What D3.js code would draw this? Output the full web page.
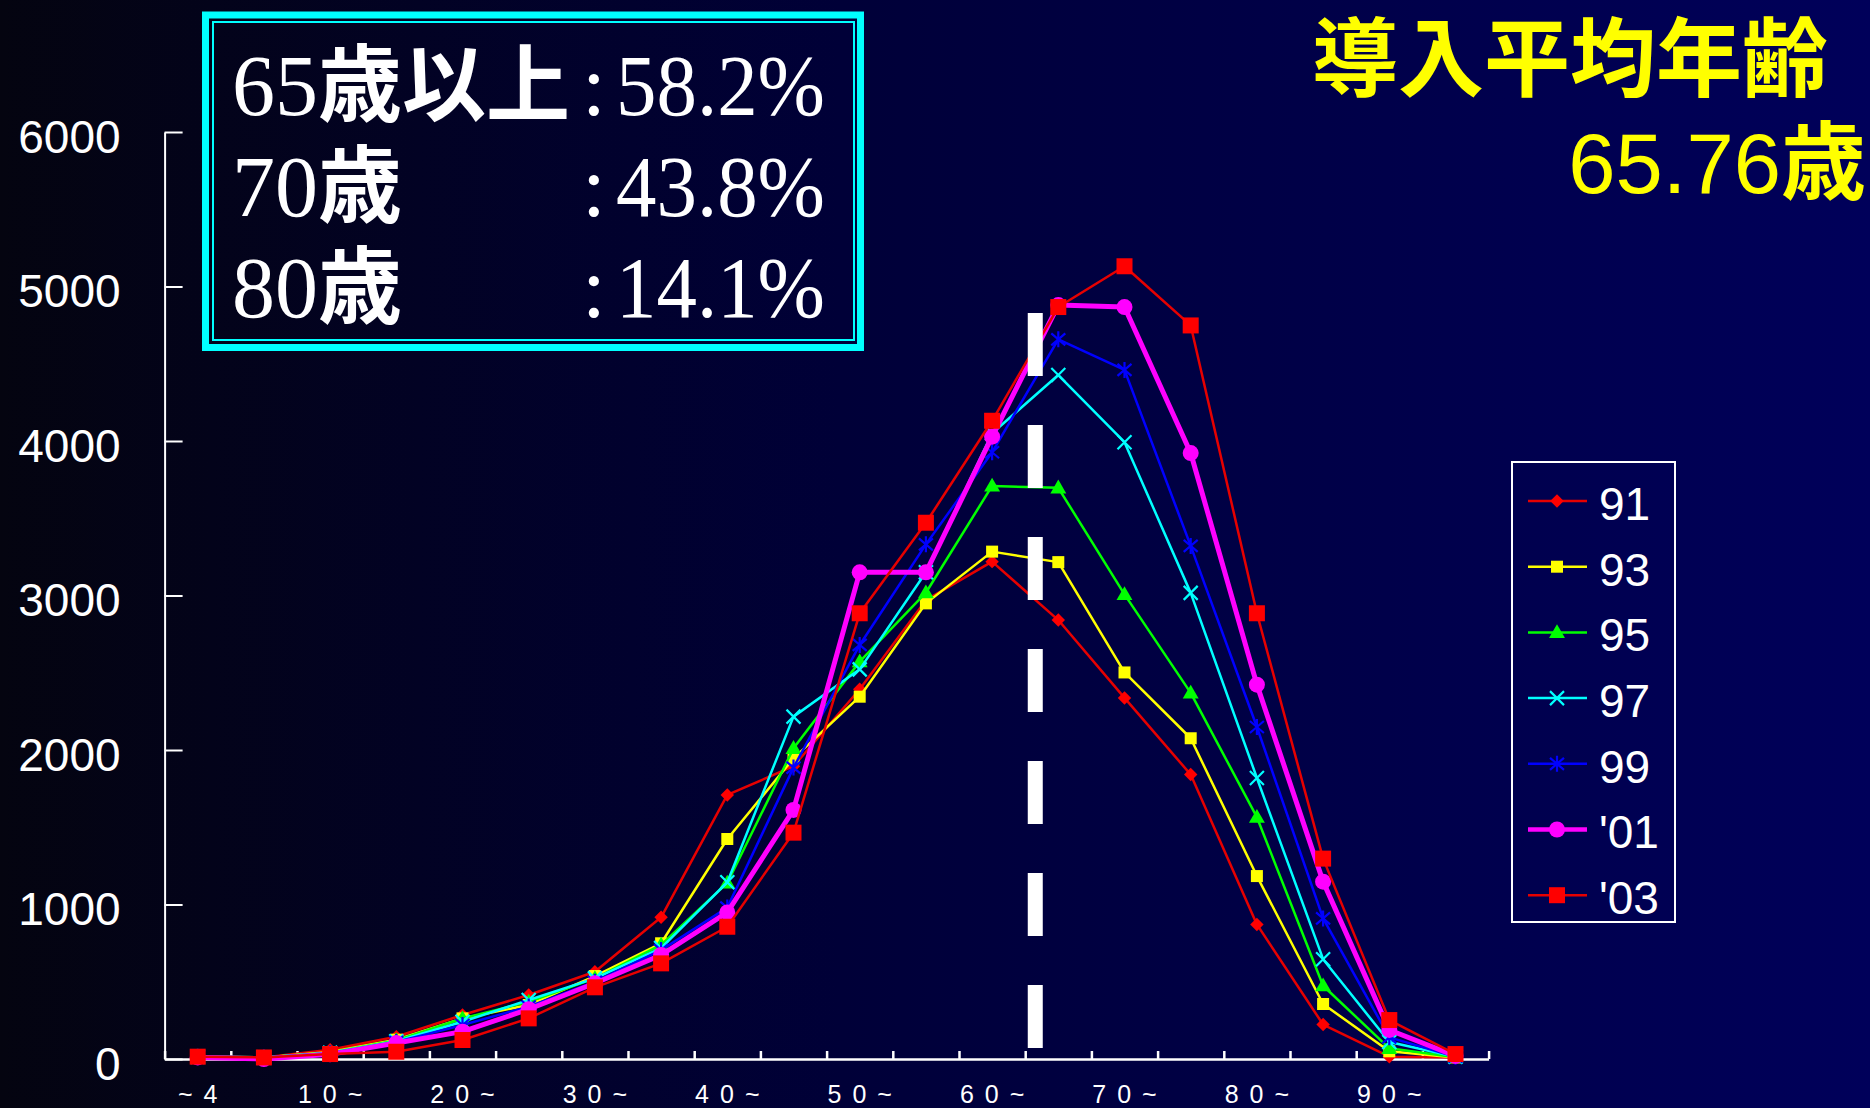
<!DOCTYPE html>
<html><head><meta charset="utf-8">
<script src="https://cdn.jsdelivr.net/npm/d3@7"></script>
<style>html,body{margin:0;padding:0;background:#000;overflow:hidden}svg{display:block}</style>
</head><body>
<svg id="c" width="1870" height="1108"></svg>
<script>
// ---------- data ----------
const ageBins = [0,5,10,15,20,25,30,35,40,45,50,55,60,65,70,75,80,85,90,95];
const xLabels = ["~4","5~","10~","15~","20~","25~","30~","35~","40~","45~","50~","55~","60~","65~","70~","75~","80~","85~","90~","95~"];
const yTicks = [0,1000,2000,3000,4000,5000,6000];
const seriesNames = ["91","93","95","97","99","'01","'03"];
const s91 = [15,10,60,144,285,414,565,917,1709,1895,2393,2970,3219,2841,2337,1841,871,223,15,10];
const s93 = [15,10,45,125,263,350,537,749,1424,1946,2345,2949,3284,3216,2502,2076,1184,356,50,10];
const s95 = [15,10,40,120,262,370,522,738,1140,2011,2572,3018,3709,3697,3007,2370,1565,474,69,12];
const s97 = [15,10,40,115,241,382,522,718,1144,2216,2522,3150,4050,4427,3992,3017,1819,646,110,15];
const s99 = [15,10,38,110,220,339,500,705,980,1886,2680,3331,3927,4658,4460,3321,2149,910,140,15];
const s01 = [10,0,30,103,177,322,490,673,949,1612,3150,3150,4028,4880,4867,3922,2423,1148,188,20];
const s03 = [15,10,32,47,123,263,464,619,856,1465,2885,3471,4131,4867,5131,4748,2885,1297,252,32];
const meanAge = 65.76;
const titleText = "導入平均年齢";
const boxAges = ["65","70","80"];
const boxSuffix = ["歳以上","歳","歳"];
const boxValues = ["58.2%","43.8%","14.1%"];

// ---------- styles ----------
const styles = [
  {color:"#ff0000", lineColor:"#e60000", width:2.5, marker:"diamond"},
  {color:"#ffff00", lineColor:"#ffff00", width:2.5, marker:"square"},
  {color:"#00ff00", lineColor:"#00ff00", width:2.5, marker:"triangle"},
  {color:"#00ffff", lineColor:"#00ffff", width:2.5, marker:"x"},
  {color:"#0000ff", lineColor:"#0000ff", width:2.5, marker:"star"},
  {color:"#ff00ff", lineColor:"#ff00ff", width:5, marker:"circle"},
  {color:"#ff0000", lineColor:"#e60000", width:2.5, marker:"bigsquare"}
];
const seriesData = [s91,s93,s95,s97,s99,s01,s03];

const svg = d3.select("#c");
const defs = svg.append("defs");
const grad = defs.append("linearGradient").attr("id","bg").attr("x1","0").attr("x2","1").attr("y1","0").attr("y2","0");
grad.append("stop").attr("offset","0%").attr("stop-color","#040410");
grad.append("stop").attr("offset","45%").attr("stop-color","#000038");
grad.append("stop").attr("offset","100%").attr("stop-color","#00005a");
svg.append("rect").attr("width",1870).attr("height",1108).attr("fill","url(#bg)");

const x = d3.scaleLinear().domain([0,100]).range([164.6,1488.6]);
const y = d3.scaleLinear().domain([0,6000]).range([1059,132]);
const SANS = "'Liberation Sans', Arial, sans-serif";
const SERIF = "'Liberation Serif', 'Times New Roman', serif";
const CJK = "'Noto Sans CJK JP', sans-serif";

// ---------- axes ----------
const yAxis = svg.append("g").attr("transform","translate(164.6,0)")
  .call(d3.axisLeft(y).tickValues(yTicks).tickSize(-18).tickSizeOuter(0).tickPadding(44).tickFormat(d=>String(d)));
yAxis.selectAll("path,line").attr("stroke","#fff").attr("stroke-width",2);
yAxis.selectAll("text").attr("fill","#fff").attr("font-family",SANS).attr("font-size",46).attr("dy","0.44em");

const xAxis = svg.append("g").attr("transform","translate(0,1059)")
  .call(d3.axisBottom(x).tickValues(ageBins.concat([100])).tickSize(-8).tickSizeOuter(0).tickFormat(""));
xAxis.selectAll("path,line").attr("stroke","#fff").attr("stroke-width",2.5);

const LS = 11;
svg.append("g").selectAll("text").data(xLabels.map((t,i)=>({t,i})).filter(d=>d.i%2===0)).join("text")
  .attr("x",d=>x(ageBins[d.i]+2.5)+LS/2).attr("y",1103)
  .attr("text-anchor","middle").attr("fill","#fff").attr("font-family",SANS).attr("font-size",25)
  .attr("letter-spacing",LS).text(d=>d.t);

// ---------- markers ----------
function drawMarker(g, type, color, cx, cy){
  const t = `translate(${cx},${cy})`;
  if(type==="diamond"){
    g.append("path").attr("d",d3.symbol(d3.symbolSquare,90)()).attr("transform",t+" rotate(45)").attr("fill",color);
  } else if(type==="square"){
    g.append("path").attr("d",d3.symbol(d3.symbolSquare,144)()).attr("transform",t).attr("fill",color);
  } else if(type==="bigsquare"){
    g.append("path").attr("d",d3.symbol(d3.symbolSquare,256)()).attr("transform",t).attr("fill",color);
  } else if(type==="triangle"){
    g.append("path").attr("d",d3.symbol(d3.symbolTriangle,110)()).attr("transform",t+" translate(0,1)").attr("fill",color);
  } else if(type==="circle"){
    g.append("circle").attr("cx",cx).attr("cy",cy).attr("r",8).attr("fill",color);
  } else if(type==="x"){
    g.append("path").attr("d","M-7,-7L7,7M-7,7L7,-7").attr("transform",t).attr("stroke",color).attr("stroke-width",2.2).attr("fill","none");
  } else if(type==="star"){
    g.append("path").attr("d","M-7,-6L7,6M-7,6L7,-6M0,-8L0,8").attr("transform",t).attr("stroke",color).attr("stroke-width",2.2).attr("fill","none");
  }
}

// ---------- series ----------
const line = d3.line().x((d,i)=>x(ageBins[i]+2.5)).y(d=>y(d));
seriesData.forEach((data,k)=>{
  const st = styles[k];
  const g = svg.append("g");
  g.append("path").datum(data).attr("d",line).attr("fill","none")
    .attr("stroke",st.lineColor).attr("stroke-width",st.width).attr("stroke-linejoin","round");
  data.forEach((v,i)=>drawMarker(g, st.marker, st.color, x(ageBins[i]+2.5), y(v)));
});

// ---------- mean age dashed line ----------
svg.append("line").attr("x1",x(meanAge)).attr("x2",x(meanAge)).attr("y1",313).attr("y2",1048)
  .attr("stroke","#fff").attr("stroke-width",15).attr("stroke-dasharray","63,49");

// ---------- legend ----------
const lg = svg.append("g");
lg.append("rect").attr("x",1512).attr("y",462).attr("width",163).attr("height",460)
  .attr("fill","none").attr("stroke","#fff").attr("stroke-width",2);
seriesNames.forEach((n,k)=>{
  const cy = 501 + 65.7*k;
  const st = styles[k];
  lg.append("line").attr("x1",1528).attr("x2",1587).attr("y1",cy).attr("y2",cy)
    .attr("stroke",st.lineColor).attr("stroke-width",st.width===5?4.5:2.5);
  drawMarker(lg, st.marker, st.color, 1557, cy);
  lg.append("text").attr("x",1599).attr("y",cy).attr("dy","0.41em").attr("fill","#fff")
    .attr("font-family",SANS).attr("font-size",46).text(n);
});

// ---------- info box ----------
const bx = svg.append("g");
bx.append("rect").attr("x",205.5).attr("y",15).attr("width",655).attr("height",332.5)
  .attr("fill","none").attr("stroke","#00ffff").attr("stroke-width",7);
bx.append("rect").attr("x",213).attr("y",22).attr("width",641).attr("height",318)
  .attr("fill","none").attr("stroke","#00ffff").attr("stroke-width",2);
boxAges.forEach((a,k)=>{
  const by = 115 + 101*k;
  const t = bx.append("text").attr("x",232).attr("y",by).attr("fill","#fff");
  t.append("tspan").attr("font-family",SERIF).attr("font-size",86).text(a);
  t.append("tspan").attr("font-family",CJK).attr("font-weight",700).attr("font-size",84).text(boxSuffix[k]);
  bx.append("text").attr("x",582).attr("y",by).attr("fill","#fff").attr("font-family",SERIF).attr("font-size",86).text(":");
  bx.append("text").attr("x",616).attr("y",by).attr("fill","#fff")
    .attr("font-family",SERIF).attr("font-size",86)
    .attr("textLength",209).attr("lengthAdjust","spacingAndGlyphs").text(boxValues[k]);
});

// ---------- title ----------
svg.append("text").attr("x",1312).attr("y",90).attr("fill","#ffff00").attr("font-family",CJK)
  .attr("font-weight",700).attr("font-size",86).text(titleText);
const t2 = svg.append("text").attr("x",1866).attr("y",193).attr("text-anchor","end").attr("fill","#ffff00");
t2.append("tspan").attr("font-family",SANS).attr("font-size",85).text(meanAge.toFixed(2));
t2.append("tspan").attr("font-family",CJK).attr("font-weight",700).attr("font-size",85).text("歳");
</script>
</body></html>
